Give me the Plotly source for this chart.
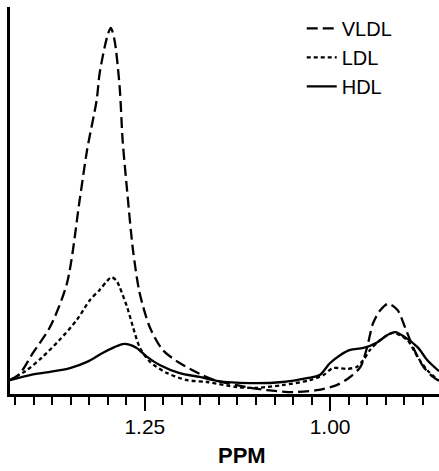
import plotly.graph_objects as go

# VLDL (dashed)
vldl_ppm = [1.432, 1.419, 1.401, 1.378, 1.355, 1.338, 1.328, 1.315, 1.311, 1.301, 1.296,
            1.291, 1.284, 1.280, 1.274, 1.266, 1.257, 1.243, 1.226, 1.203, 1.176, 1.153,
            1.126, 1.108, 1.085, 1.050, 1.018, 0.991, 0.973, 0.959, 0.950, 0.942, 0.932,
            0.922, 0.909, 0.899, 0.888, 0.874, 0.861, 0.853]
vldl_int = [3.6, 5.2, 10.6, 17.3, 28.7, 50.1, 63.0, 76.0, 82.9, 92.2, 94.6,
            91.5, 79.3, 65.6, 52.7, 37.2, 26.1, 17.1, 11.4, 8.0, 5.2, 3.4,
            2.3, 1.6, 1.0, 0.5, 1.0, 2.3, 4.4, 7.0, 12.1, 18.3, 21.7,
            23.3, 21.7, 17.3, 12.1, 7.0, 4.4, 3.4]

# LDL (dotted)
ldl_ppm = [1.432, 1.409, 1.388, 1.365, 1.342, 1.324, 1.311, 1.301, 1.295, 1.288, 1.284,
           1.274, 1.266, 1.257, 1.243, 1.220, 1.193, 1.166, 1.126, 1.099, 1.064, 1.027,
           1.009, 0.996, 0.977, 0.964, 0.955, 0.946, 0.932, 0.915, 0.896, 0.882, 0.869,
           0.853]
ldl_int = [3.6, 6.2, 9.6, 14.0, 19.1, 24.3, 26.9, 29.2, 30.2, 29.2, 27.6,
           22.5, 17.3, 12.1, 8.3, 5.4, 3.6, 3.1, 1.8, 1.6, 2.3, 3.6,
           4.9, 6.7, 6.5, 7.0, 8.8, 11.4, 14.0, 15.8, 14.0, 9.6, 6.2,
           3.4]

# HDL (solid)
hdl_ppm = [1.432, 1.405, 1.378, 1.351, 1.328, 1.307, 1.291, 1.280, 1.270, 1.261, 1.247,
           1.230, 1.203, 1.176, 1.153, 1.108, 1.064, 1.031, 1.014, 1.000, 0.986, 0.973,
           0.955, 0.936, 0.923, 0.912, 0.899, 0.882, 0.869, 0.853]
hdl_int = [3.6, 4.9, 5.7, 6.7, 8.3, 10.6, 12.1, 12.9, 12.7, 11.9, 9.6,
           7.5, 5.4, 4.4, 3.4, 2.8, 3.1, 4.1, 4.9, 8.0, 10.1, 11.4,
           11.9, 13.4, 15.2, 16.0, 14.7, 12.1, 8.8, 5.9]

series = [
    ("VLDL", vldl_ppm, vldl_int, "11px,5px"),
    ("LDL", ldl_ppm, ldl_int, "4px,3px"),
    ("HDL", hdl_ppm, hdl_int, "solid"),
]

fig = go.Figure()
for name, xs, ys, dash in series:
    fig.add_trace(go.Scatter(
        x=xs, y=ys, mode="lines", name=name,
        line=dict(color="black", width=2.3, dash=dash, shape="spline", smoothing=0.8),
    ))

fig.update_layout(
    width=439, height=471,
    margin=dict(l=10, r=0, t=7, b=77),
    paper_bgcolor="white", plot_bgcolor="white",
    font=dict(family="Liberation Sans, Arial, sans-serif", color="black"),
    showlegend=True,
    legend=dict(
        x=0.68, y=0.995, xanchor="left", yanchor="top",
        font=dict(size=20, color="black"),
        bgcolor="rgba(0,0,0,0)", tracegroupgap=0,
    ),
    xaxis=dict(
        range=[1.432, 0.853], autorange=False,
        showline=True, linecolor="black", linewidth=2.5,
        showgrid=False, zeroline=False,
        ticks="outside", ticklen=14, tickwidth=1.5, tickcolor="black",
        tick0=1.0, dtick=0.25, tickformat=".2f",
        tickfont=dict(size=21, color="black"),
        ticklabelstandoff=-2,
        minor=dict(dtick=0.025, ticks="outside", ticklen=8, tickwidth=1.5,
                   tickcolor="black", showgrid=False),
    ),
    yaxis=dict(
        range=[0, 100], autorange=False,
        showline=True, linecolor="black", linewidth=3,
        showgrid=False, zeroline=False, showticklabels=False, ticks="",
    ),
    annotations=[dict(
        text="<b>PPM</b>", x=1.119, xref="x", y=-0.16, yref="paper",
        showarrow=False, font=dict(size=22, color="black"),
        xanchor="center", yanchor="middle",
    )],
)

fig.write_html("out.html")
